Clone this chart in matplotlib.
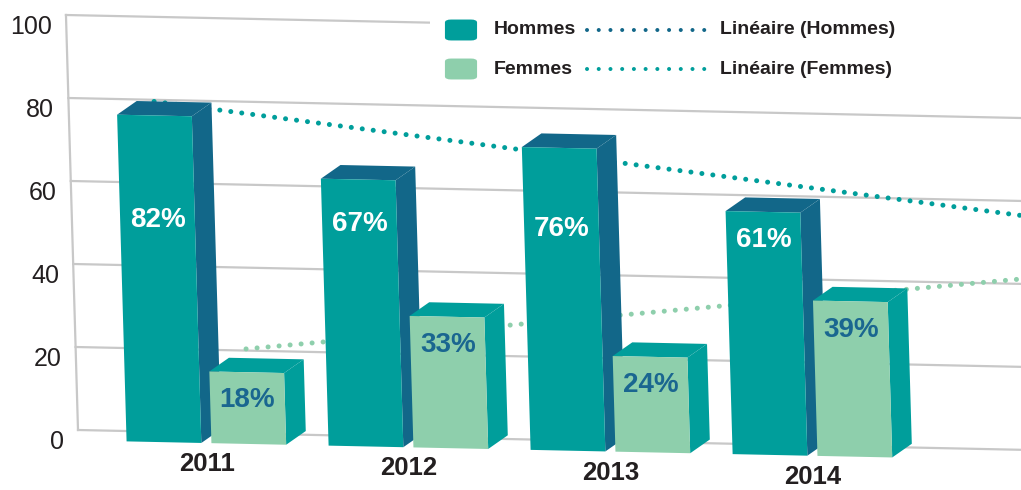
import numpy as np
import matplotlib.pyplot as plt
from matplotlib.patches import Polygon, FancyBboxPatch, Rectangle
from matplotlib.lines import Line2D
from matplotlib.transforms import Affine2D, offset_copy

years = ['2011', '2012', '2013', '2014']
hommes = [82, 67, 76, 61]
femmes = [18, 33, 24, 39]
yticks = [0, 20, 40, 60, 80, 100]

TEAL = '#009e9b'
DARKBLUE = '#126789'
LIGHTGREEN = '#8ecfac'
TXTBLUE = '#1a6690'
GREY = '#c8c8c8'
INK = '#231f20'

W, H = 1021, 490
fig = plt.figure(figsize=(W / 100, H / 100), dpi=100)
ax = fig.add_axes([78 / W, 60 / H, (W - 78) / W, 415 / H])
ax.set_axis_off()
xmin, xmax = -0.634, 4.034

# the original is a slightly tilted 3d chart: shear everything a bit
x0, y0 = 78, 60
shear = np.array([[1, -0.029, 0], [-0.021, 1, 0], [0, 0, 1]])
skew = Affine2D().translate(-x0, -y0) + Affine2D(shear) + Affine2D().translate(x0, y0)
tr = ax.transData + skew

# grid + y labels
for v in yticks:
    ax.plot([xmin, xmax + 0.05], [v, v], color=GREY, lw=1.6, transform=tr, clip_on=False, zorder=1)
    ax.text(xmin, v, str(v), transform=offset_copy(tr, fig=fig, x=-14, y=-12, units='dots'),
            ha='right', va='center', fontsize=18, family='Liberation Sans', color=INK)
ax.plot([xmin, xmin], [0, 100], color=GREY, lw=1.6, transform=tr, clip_on=False, zorder=1)

xs = np.arange(len(years))
bw, off = 0.37, 0.21
dx, dy = 0.099, 3.4
base = -2.5

# trend lines (behind the bars)
ph = np.polyfit(xs - off, hommes, 1)
pf = np.polyfit(xs + off, femmes, 1)
dots = dict(lw=3.6, linestyle=(0, (0.01, 2.2)), dash_capstyle='round', transform=tr, clip_on=False, zorder=2)
lx = np.array([xs[0] - off, xmax + 0.05])
ax.plot(lx, np.polyval(ph, lx), color=TEAL, **dots)
lx = np.array([xs[0] + off, xmax + 0.05])
ax.plot(lx, np.polyval(pf, lx), color=LIGHTGREEN, **dots)


def bar3d(xc, v, front, side, top, txtcol, z):
    xl, xr = xc - bw / 2, xc + bw / 2
    t = 0.96 * v + base
    ax.add_patch(Polygon([(xr, base), (xr + dx, base + dy), (xr + dx, t + dy), (xr, t)],
                         closed=True, fc=side, ec='none', transform=tr, zorder=z, clip_on=False))
    ax.add_patch(Polygon([(xl, t), (xl + dx, t + dy), (xr + dx, t + dy), (xr, t)],
                         closed=True, fc=top, ec='none', transform=tr, zorder=z, clip_on=False))
    ax.bar(xc, t - base, bottom=base, width=bw, color=front, transform=tr, zorder=z + 0.5, clip_on=False)
    ax.text(xc, min(t - 6.8, 51), f'{v}%', transform=tr, ha='center', va='center',
            fontsize=20, fontweight='bold', family='Liberation Sans', color=txtcol, zorder=z + 1)


z = 3
for i in range(len(years)):
    bar3d(xs[i] - off, hommes[i], TEAL, DARKBLUE, DARKBLUE, 'white', z)
    bar3d(xs[i] + off, femmes[i], LIGHTGREEN, TEAL, TEAL, TXTBLUE, z + 2)
    ax.text(xs[i], -7.6, years[i], transform=tr, ha='center', va='center',
            fontsize=18.5, fontweight='bold', family='Liberation Sans', color=INK)
    z += 4

ax.set_xlim(xmin, xmax)
ax.set_ylim(0, 100)

# legend, built by hand (pixel layout of the original)
fig.add_artist(Rectangle((430 / W, 1 - 88 / H), 1 - 430 / W, 88 / H, transform=fig.transFigure,
                         fc='white', ec='none', zorder=50))
rows = [('Hommes', 'Linéaire (Hommes)', TEAL, DARKBLUE, 30),
        ('Femmes', 'Linéaire (Femmes)', LIGHTGREEN, TEAL, 69)]
for name, lin, pc, lc, py in rows:
    fig.add_artist(FancyBboxPatch((448 / W, 1 - (py + 9) / H), 26 / W, 18 / H,
                                  boxstyle='round,pad=0.003,rounding_size=0.006',
                                  transform=fig.transFigure, fc=pc, ec='none', zorder=51))
    fig.text(494 / W, 1 - py / H, name, ha='left', va='center', fontsize=14, fontweight='bold',
             family='Liberation Sans', color=INK, zorder=52)
    fig.add_artist(Line2D([587 / W, 710 / W], [1 - py / H, 1 - py / H], transform=fig.transFigure,
                          color=lc, lw=2.9, linestyle=(0, (0.01, 2.9)), dash_capstyle='round', zorder=52))
    fig.text(720 / W, 1 - py / H, lin, ha='left', va='center', fontsize=14, fontweight='bold',
             family='Liberation Sans', color=INK, zorder=52)

fig.savefig('out.png', dpi=100)
